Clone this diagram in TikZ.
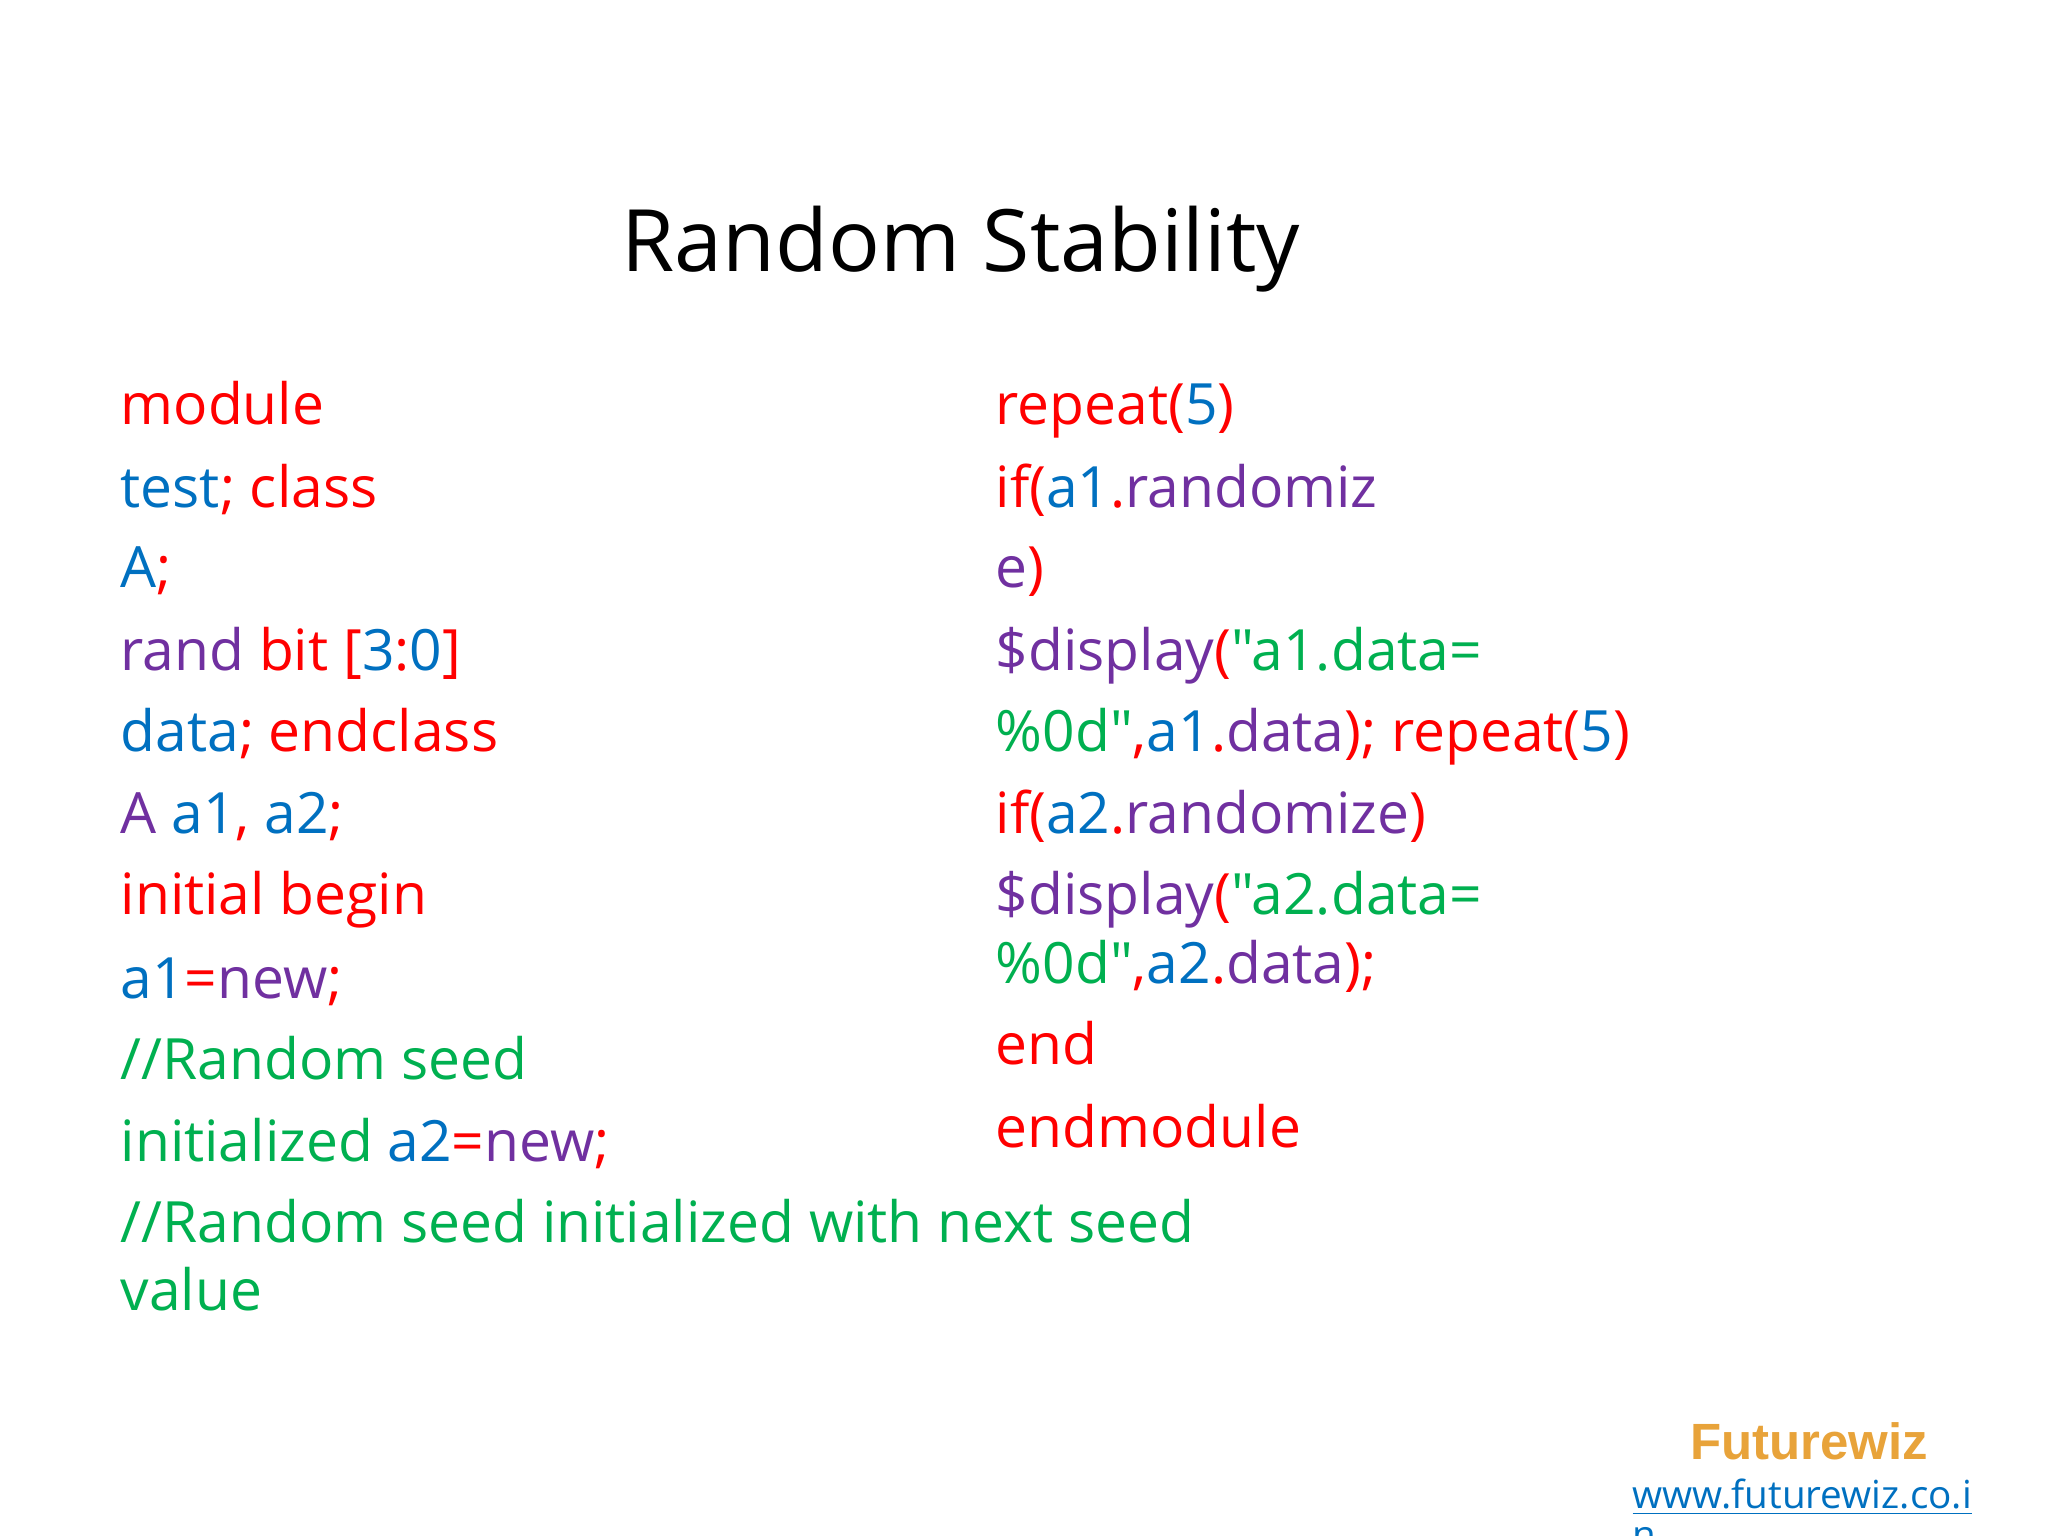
\documentclass[tikz,border=0pt]{standalone}
\usepackage{fontspec}
\setmainfont{Open Sans}[Ligatures=TeXOff]
\newfontfamily\arialbold{Liberation Sans}
\definecolor{cR}{HTML}{FF0000}
\definecolor{cB}{HTML}{0070C0}
\definecolor{cP}{HTML}{7030A0}
\definecolor{cG}{HTML}{00B050}
\definecolor{cO}{HTML}{E8A33A}
\newcommand{\R}[1]{\textcolor{cR}{#1}}
\newcommand{\B}[1]{\textcolor{cB}{#1}}
\newcommand{\Pu}[1]{\textcolor{cP}{#1}}
\newcommand{\G}[1]{\textcolor{cG}{#1}}
\newcommand{\qq}{\symbol{34}}
\begin{document}
\begin{tikzpicture}[x=1cm,y=1cm,
  code/.style={anchor=base west,inner sep=0pt,font=\fontsize{16.2}{19}\selectfont}]
\useasboundingbox (0,0) rectangle (20.48,-15.36);
\clip (0,0) rectangle (20.48,-15.36);
\fill[white] (0,0) rectangle (20.48,-15.36);
\node[anchor=base,inner sep=0pt,font=\fontsize{24.5}{29}\selectfont] (title) at (9.61,-2.72) {Random Stability};
% left column
\node[code] (l1) at (1.20,-4.24) {\R{module}};
\node[code] (l2) at (1.20,-5.07) {\B{test}\R{; class}};
\node[code] (l3) at (1.20,-5.88) {\B{A}\R{;}};
\node[code] (l4) at (1.20,-6.70) {\Pu{rand} \R{bit [}\B{3}\R{:}\B{0}\R{]}};
\node[code] (l5) at (1.20,-7.52) {\B{data}\R{; endclass}};
\node[code] (l6) at (1.20,-8.33) {\Pu{A} \B{a1}\R{,} \B{a2}\R{;}};
\node[code] (l7) at (1.20,-9.15) {\R{initial begin}};
\node[code] (l8) at (1.20,-9.98) {\B{a1}\R{=}\Pu{new}\R{;}};
\node[code] (l9) at (1.20,-10.79) {\G{//Random seed}};
\node[code] (l10) at (1.20,-11.61) {\G{initialized} \B{a2}\R{=}\Pu{new}\R{;}};
\node[code] (l11) at (1.20,-12.42) {\G{//Random seed initialized with next seed}};
\node[code] (l12) at (1.20,-13.10) {\G{value}};
% right column
\node[code] (r1) at (9.95,-4.24) {\R{repeat(}\B{5}\R{)}};
\node[code] (r2) at (9.95,-5.07) {\R{if(}\B{a1}\R{.}\Pu{randomiz}};
\node[code] (r3) at (9.95,-5.88) {\Pu{e}\R{)}};
\node[code] (r4) at (9.95,-6.70) {\Pu{\$display}\R{(}\G{\qq a1.data=}};
\node[code] (r5) at (9.95,-7.52) {\G{\%0d\qq}\R{,}\B{a1}\R{.}\Pu{data}\R{); repeat(}\B{5}\R{)}};
\node[code] (r6) at (9.95,-8.33) {\R{if(}\B{a2}\R{.}\Pu{randomize}\R{)}};
\node[code] (r7) at (9.95,-9.15) {\Pu{\$display}\R{(}\G{\qq a2.data=}};
\node[code] (r8) at (9.95,-9.83) {\G{\%0d\qq}\R{,}\B{a2}\R{.}\Pu{data}\R{);}};
\node[code] (r9) at (9.95,-10.64) {\R{end}};
\node[code] (r10) at (9.95,-11.47) {\R{endmodule}};
% logo
\node[anchor=base,inner sep=0pt,text=cO,font=\arialbold\bfseries\fontsize{14.5}{17}\selectfont] (logo) at (18.09,-14.59) {Futurewiz};
\node[anchor=base west,inner sep=0pt,text=cB,font=\fontsize{11}{13}\selectfont] (url) at (16.32,-15.08) {\underline{www.futurewiz.co.i}};
\node[anchor=base west,inner sep=0pt,text=cB,font=\fontsize{11}{13}\selectfont] (url2) at (16.32,-15.48) {\underline{n}};
\end{tikzpicture}
\end{document}
